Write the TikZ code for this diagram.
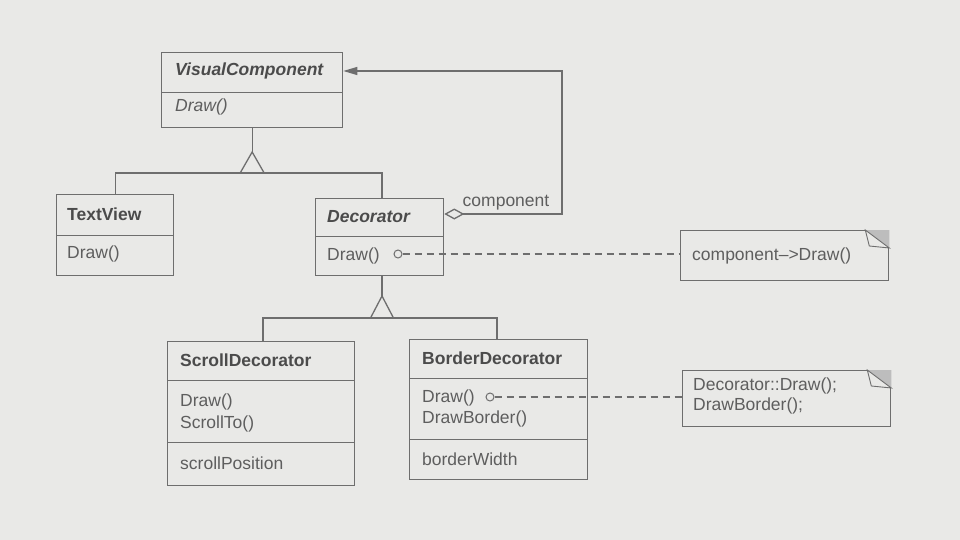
\documentclass[tikz,border=0pt]{standalone}
\usepackage{fontspec}
\setmainfont{Liberation Sans}
\usetikzlibrary{arrows.meta}
\definecolor{bg}{HTML}{E9E9E7}
\definecolor{ln}{HTML}{6E6E6E}
\definecolor{tx}{HTML}{5E5E5E}
\definecolor{fold}{HTML}{BDBDBD}
\tikzset{
  box/.style={draw=ln, line width=1.3pt, rectangle, anchor=north west, inner sep=0pt},
  ttl/.style={anchor=west, inner sep=0pt, text=tx!80!black, font=\fontsize{17.5}{21}\selectfont\bfseries},
  ittl/.style={ttl, font=\fontsize{17.5}{21}\selectfont\bfseries\itshape},
  op/.style={anchor=west, inner sep=0pt, text=tx, font=\fontsize{17.5}{21}\selectfont},
  iop/.style={op, font=\fontsize{17.5}{21}\selectfont\itshape},
  conn/.style={draw=ln, line width=1.3pt},
  dashln/.style={conn, line width=1.1pt, dash pattern=on 7pt off 5pt},
  pin/.style={draw=ln, line width=1pt, circle, inner sep=0pt, minimum size=8pt, fill=bg},
}
\begin{document}
\begin{tikzpicture}[x=1pt,y=-1pt]
\fill[bg] (0,0) rectangle (960,540);
\useasboundingbox (0,0) rectangle (960,540);

% VisualComponent
\node[box, minimum width=181pt, minimum height=40pt] (vct) at (161,52) {};
\node[box, minimum width=181pt, minimum height=35pt] (vcm) at (161,92) {};
\node[ittl] (vctxt) at (175,71) {VisualComponent};
\node[iop] (vcop) at (175,107) {Draw()};

% TextView
\node[box, minimum width=117pt, minimum height=41pt] (tvt) at (56,194) {};
\node[box, minimum width=117pt, minimum height=40pt] (tvm) at (56,235) {};
\node[ttl] (tvtxt) at (67,214) {TextView};
\node[op] (tvop) at (67,254) {Draw()};

% Decorator
\node[box, minimum width=128pt, minimum height=38pt] (dct) at (315,198) {};
\node[box, minimum width=128pt, minimum height=39pt] (dcm) at (315,236) {};
\node[ittl] (dctxt) at (327,217) {Decorator};
\node[op] (dcop) at (327,256) {Draw()};
\node[pin] (dcpin) at (398,254) {};

% ScrollDecorator
\node[box, minimum width=187pt, minimum height=39pt] (sdt) at (167,341) {};
\node[box, minimum width=187pt, minimum height=62pt] (sdm) at (167,380) {};
\node[box, minimum width=187pt, minimum height=43pt] (sda) at (167,442) {};
\node[ttl] (sdtxt) at (180,360) {ScrollDecorator};
\node[op] (sdop1) at (180,402) {Draw()};
\node[op] (sdop2) at (180,424) {ScrollTo()};
\node[op] (sdat) at (180,463) {scrollPosition};

% BorderDecorator
\node[box, minimum width=178pt, minimum height=39pt] (bdt) at (409,339) {};
\node[box, minimum width=178pt, minimum height=61pt] (bdm) at (409,378) {};
\node[box, minimum width=178pt, minimum height=40pt] (bda) at (409,439) {};
\node[ttl] (bdtxt) at (422,358) {BorderDecorator};
\node[op] (bdop1) at (422,398) {Draw()};
\node[op] (bdop2) at (422,419) {DrawBorder()};
\node[op] (bdat) at (422,459) {borderWidth};
\node[pin] (bdpin) at (490,397) {};

% Notes
\node[box, minimum width=208pt, minimum height=50pt] (n1) at (680,230) {};
\node[op] (n1txt) at (692,256) {component\textendash>Draw()};
\node[box, minimum width=208pt, minimum height=56pt] (n2) at (682,370) {};
\node[op, align=left, font=\fontsize{17.5}{20}\selectfont] (n2txt) at (693,396) {Decorator::Draw();\\DrawBorder();};
\foreach \n in {n1,n2}{
  \fill[fold] ([xshift=-24pt]\n.north east) -- (\n.north east) -- ([yshift=-18pt]\n.north east) -- cycle;
  \fill[bg, draw=ln, line width=0.9pt] ([xshift=-24pt]\n.north east) -- ([xshift=-20pt,yshift=-16pt]\n.north east) -- ([yshift=-18pt]\n.north east) -- cycle;
}

% Inheritance VisualComponent -> TextView, Decorator
\coordinate (a1) at (vcm.south |- 0,152);
\coordinate (b1) at (vcm.south |- 0,173);
\draw[conn] (vcm.south) -- (a1);
\draw[conn] (a1) -- ([xshift=-12pt]b1) -- ([xshift=12pt]b1) -- cycle;
\draw[conn] (tvt.north) |- (b1);
\draw[conn] (b1) -| ([xshift=67pt]dct.north west);

% Inheritance Decorator -> ScrollDecorator, BorderDecorator
\coordinate (a2) at ([xshift=67pt]dcm.south west |- 0,296);
\coordinate (b2) at ([xshift=67pt]dcm.south west |- 0,318);
\draw[conn] ([xshift=67pt]dcm.south west) -- (a2);
\draw[conn] (a2) -- ([xshift=-11.5pt]b2) -- ([xshift=11.5pt]b2) -- cycle;
\draw[conn] ([xshift=96pt]sdt.north west) |- (b2) -| ([xshift=88pt]bdt.north west);

% Composition Decorator -> VisualComponent
\coordinate (c1) at (562,214);
\draw[conn, {Diamond[open, length=20pt, width=11pt, fill=bg]}-{Triangle[length=14pt, width=8pt, fill=ln]}]
  (dct.east |- c1) -- (c1) |- (vct.east |- 0,71);
\node[op, anchor=south] (complbl) at (506,210) {component};

% Dashed to notes
\draw[dashln] (dcpin.east) -- (n1.west |- dcpin);
\draw[dashln] (bdpin.east) -- (n2.west |- bdpin);
\end{tikzpicture}
\end{document}
